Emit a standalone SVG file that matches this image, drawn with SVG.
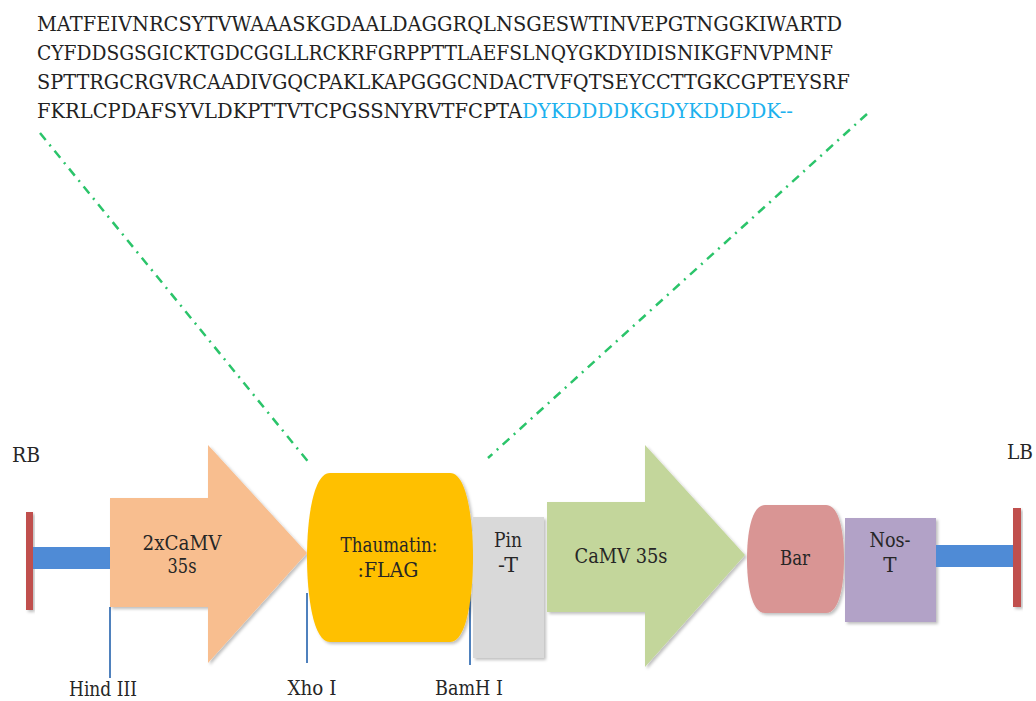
<svg xmlns="http://www.w3.org/2000/svg" width="1036" height="701" viewBox="0 0 1036 701">
<defs>
<style>
text{font-family:'DejaVu Serif','Liberation Serif','Times New Roman',serif}
.t{font-size:20px;fill:#262626}
.c{text-anchor:middle}
.seq{font-size:20px;fill:#222}
.flag{fill:#1DB1EE}
.site{stroke:#4F81BD;stroke-width:2;fill:none}
.zoom{stroke:#2BC46A;stroke-width:2.5;fill:none;stroke-dasharray:9 6 2 6}
</style>
<filter id="sh" x="-10%" y="-10%" width="130%" height="130%">
<feDropShadow dx="2" dy="2" stdDeviation="1.5" flood-color="#000" flood-opacity="0.25"/>
</filter>
</defs>
<rect width="1036" height="701" fill="#fff"/>

<g id="sequence">
<text class="seq" x="37" y="31" textLength="805" lengthAdjust="spacingAndGlyphs">MATFEIVNRCSYTVWAAASKGDAALDAGGRQLNSGESWTINVEPGTNGGKIWARTD</text>
<text class="seq" x="37" y="60" textLength="796" lengthAdjust="spacingAndGlyphs">CYFDDSGSGICKTGDCGGLLRCKRFGRPPTTLAEFSLNQYGKDYIDISNIKGFNVPMNF</text>
<text class="seq" x="37" y="89" textLength="813" lengthAdjust="spacingAndGlyphs">SPTTRGCRGVRCAADIVGQCPAKLKAPGGGCNDACTVFQTSEYCCTTGKCGPTEYSRF</text>
<text class="seq" x="37" y="118" textLength="485" lengthAdjust="spacingAndGlyphs">FKRLCPDAFSYVLDKPTTVTCPGSSNYRVTFCPTA</text>
<text class="seq flag" x="522" y="118" textLength="271" lengthAdjust="spacingAndGlyphs">DYKDDDDKGDYKDDDDK--</text>
</g>

<g id="connectors">
<line class="zoom" x1="40" y1="133" x2="310" y2="464"/>
<line class="zoom" x1="867" y1="114" x2="488" y2="458"/>
<line class="site" x1="110" y1="607" x2="110" y2="678"/>
<line class="site" x1="307" y1="593" x2="307" y2="663"/>
<line class="site" x1="470" y1="587" x2="470" y2="665"/>
</g>

<g id="RB">
<text class="t" x="12" y="462" textLength="28" lengthAdjust="spacingAndGlyphs">RB</text>
<rect x="26" y="512" width="7" height="98" fill="#C0504D" filter="url(#sh)"/>
<rect x="33" y="547" width="77" height="22" fill="#4F8BD6"/>
</g>

<g id="promoter2x">
<polygon points="110,498 208,498 208,445 307,553 208,663 208,607 110,607" fill="#F8BE8F" filter="url(#sh)"/>
<text class="t c" x="182" y="550" textLength="79" lengthAdjust="spacingAndGlyphs">2xCaMV</text>
<text class="t c" x="182" y="573" textLength="29" lengthAdjust="spacingAndGlyphs">35s</text>
</g>

<g id="thaumatin">
<path d="M330,473 H450 C467,473 473,520 473,557 C473,595 467,642 450,642 H330 C313,642 307,595 307,557 C307,520 313,473 330,473 Z" fill="#FFC000" filter="url(#sh)"/>
<text class="t c" x="389" y="552" fill="#3a3208" textLength="97" lengthAdjust="spacingAndGlyphs">Thaumatin:</text>
<text class="t c" x="388" y="577" textLength="61" lengthAdjust="spacingAndGlyphs">:FLAG</text>
</g>

<g id="pinT">
<rect x="473" y="517" width="71" height="141" fill="#D9D9D9" filter="url(#sh)"/>
<text class="t c" x="508" y="547" textLength="28" lengthAdjust="spacingAndGlyphs">Pin</text>
<text class="t c" x="508" y="572" textLength="20" lengthAdjust="spacingAndGlyphs">-T</text>
</g>

<g id="camv35s">
<polygon points="547,502 645,502 645,445 745,555 645,667 645,612 547,612" fill="#C3D69B" filter="url(#sh)"/>
<text class="t c" x="621" y="563" textLength="93" lengthAdjust="spacingAndGlyphs">CaMV 35s</text>
</g>

<g id="bar">
<path d="M765,505 H826 C840,505 844,535 844,559 C844,583 840,613 826,613 H765 C751,613 747,583 747,559 C747,535 751,505 765,505 Z" fill="#D99594" filter="url(#sh)"/>
<text class="t c" x="795" y="565" textLength="30" lengthAdjust="spacingAndGlyphs">Bar</text>
</g>

<g id="nosT">
<rect x="845" y="518" width="91" height="104" fill="#B2A2C7" filter="url(#sh)"/>
<text class="t c" x="890" y="547" textLength="41" lengthAdjust="spacingAndGlyphs">Nos-</text>
<text class="t c" x="890" y="572">T</text>
</g>

<g id="LB">
<rect x="936" y="545" width="77" height="22" fill="#4F8BD6"/>
<rect x="1013" y="508" width="8" height="99" fill="#C0504D" filter="url(#sh)"/>
<text class="t" x="1007" y="459" textLength="26" lengthAdjust="spacingAndGlyphs">LB</text>
</g>

<g id="sites">
<text class="t c" x="103" y="696" textLength="68" lengthAdjust="spacingAndGlyphs">Hind III</text>
<text class="t c" x="312" y="695" textLength="49" lengthAdjust="spacingAndGlyphs">Xho I</text>
<text class="t c" x="469" y="695" textLength="68" lengthAdjust="spacingAndGlyphs">BamH I</text>
</g>
</svg>
